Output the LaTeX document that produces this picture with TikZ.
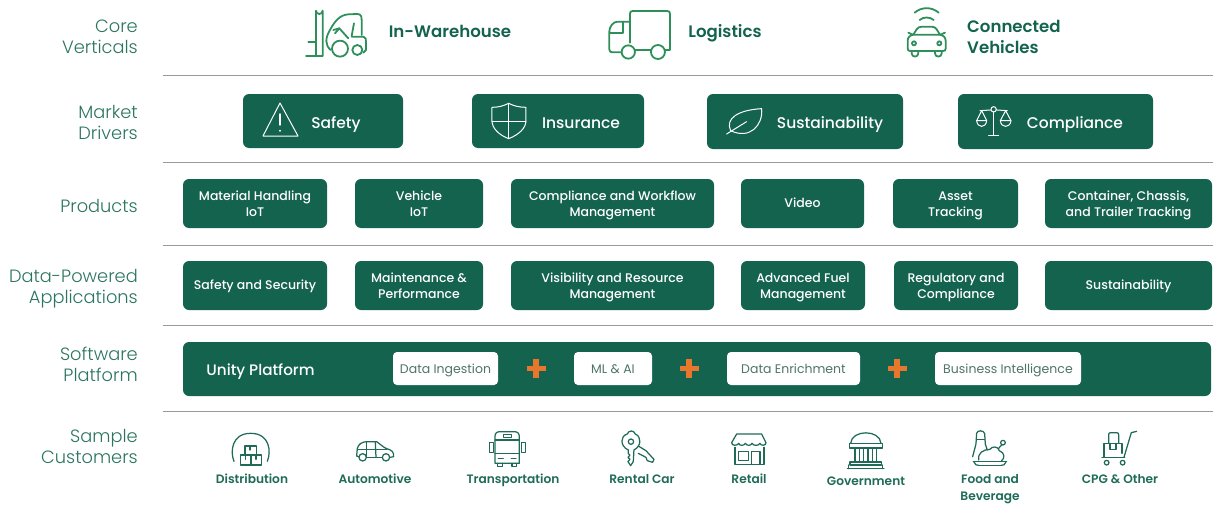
\documentclass[tikz,border=0pt]{standalone}
\usepackage{fontspec}
\usepackage{xcolor}
\usepackage{tikz}
\setmainfont{Poppins}
\newfontfamily\medfont[UprightFont={* Medium}]{Poppins}
\newfontfamily\semifont[UprightFont={* SemiBold}]{Poppins}
\newfontfamily\thinfont[UprightFont={* Light}]{Poppins}
\definecolor{deep}{HTML}{13634E}
\definecolor{rowtext}{HTML}{2B7560}
\definecolor{leaf}{HTML}{2F8F5B}
\definecolor{cust}{HTML}{1F6B57}
\definecolor{rule}{HTML}{9A9A9A}
\definecolor{muted}{HTML}{4F7568}
\definecolor{cross}{HTML}{E8762C}
\tikzset{
  struts/.style={execute at begin node=\strut, execute at end node=\strut},
  rowlbl/.style={struts, text=rowtext, anchor=east, align=right, inner sep=0pt, font=\thinfont\fontsize{17.8}{21}\selectfont},
  vert/.style={struts, text=deep, align=left, inner sep=0pt, font=\semifont\fontsize{16.6}{21}\selectfont},
  dbox/.style={fill=deep, rounded corners=6pt, inner sep=0pt, draw=none},
  drv/.style={struts, text=white, inner sep=0pt, font=\medfont\fontsize{15.5}{18}\selectfont},
  smallbase/.style={text=white, align=center, font=\medfont\fontsize{12.5}{16.5}\selectfont, execute at end node=\strut},
  small/.style={smallbase, execute at begin node=\rule{0pt}{31pt}},
  small one/.style={smallbase, execute at begin node=\rule{0pt}{13.6pt}},
  wbox/.style={fill=white, rounded corners=4pt, text=muted, minimum height=33pt, inner sep=0pt, font=\fontsize{12.5}{15}\selectfont,
    execute at begin node=\rule{0pt}{13.5pt}, execute at end node=\strut},
  cust lbl/.style={struts, text=cust, align=center, inner sep=0pt, font=\semifont\fontsize{12.2}{17}\selectfont},
  rule line/.style={draw=rule, line width=0.9pt},
  gline/.style={draw=leaf, line width=1.8pt, line cap=round, line join=round},
  wline/.style={draw=white, line width=1pt, line cap=round, line join=round},
  tline/.style={draw=cust, line width=1.25pt, line cap=round, line join=round},
  plusmark/.style={draw=cross, line width=5.5pt}
}
\begin{document}
\begin{tikzpicture}[x=1pt, y=-1pt]
  \useasboundingbox (0,0) rectangle (1213,506);

  % row names
  \node[rowlbl] (core) at (138,40) {Core\\Verticals};
  \node[rowlbl] (drivers) at (138,126) {Market\\Drivers};
  \node[rowlbl] (products) at (138,208.5) {Products};
  \node[rowlbl] (apps) at (138,289.5) {Data-Powered\\Applications};
  \node[rowlbl] (software) at (138,367.5) {Software\\Platform};
  \node[rowlbl] (sample) at (138,450) {Sample\\Customers};

  \foreach \ypos in {75,162,245,325,411}
    \draw[rule line] (163,\ypos) -- (1213,\ypos);

  % verticals
  \node[vert] (warehouse) at (450,33) {In-Warehouse};
  \node[vert] (logistics) at (725,33) {Logistics};
  \node[vert, anchor=west] (connected) at (967,40) {Connected\\Vehicles};

  % forklift
  \begin{scope}[shift={(280,0)}, scale=0.3333]
    \draw[gline] (108,125) -- (85,125);
    \draw[gline] (78,168) -- (108,168) -- (108,32) arc (180:0:10) -- (128,168) -- cycle;
    \draw[gline] (152,150) .. controls (135,135) and (135,115) .. (150,90) .. controls (165,62) and (180,45) .. (205,43) -- (232,42) .. controls (243,42) and (245,50) .. (245,60) -- (245,105);
    \draw[gline] (215,110) -- (250,110) .. controls (258,112) and (258,118) .. (258,125) -- (258,150) -- (250,158);
    \draw[gline] (165,100) -- (178,85) -- (160,90);
    \draw[gline] (178,85) -- (205,115);
    \draw[gline] (222,70) -- (215,108);
    \draw[gline] (180,146) circle (24);
    \draw[gline] (232,150) circle (15);
  \end{scope}

  % truck
  \begin{scope}[shift={(280,0)}, scale=0.3333]
    \draw[gline] (1050,128) -- (1050,42) .. controls (1050,36) and (1052,33) .. (1058,33) -- (1162,33) .. controls (1168,33) and (1170,36) .. (1170,42) -- (1170,150) -- (1156,150);
    \draw[gline] (1050,65) -- (1012,65) .. controls (1000,65) and (988,80) .. (988,95) -- (988,148) .. controls (988,155) and (992,157) .. (998,157) -- (1022,157);
    \draw[gline] (990,100) -- (1030,100) -- (1030,65);
    \draw[gline] (1066,150) -- (1112,150);
    \draw[gline] (1045,156) circle (20);
    \draw[gline] (1134,156) circle (21);
  \end{scope}

  % car with signal
  \begin{scope}[shift={(780,0)}, scale=0.3333]
    \draw[gline] (404,38) .. controls (425,20) and (455,20) .. (476,38);
    \draw[gline] (419,60) .. controls (430,50) and (450,50) .. (461,60);
    \draw[gline] (400,104) -- (410,88) .. controls (413,83) and (418,80) .. (426,80) -- (454,80) .. controls (462,80) and (467,83) .. (470,88) -- (480,104);
    \draw[gline] (400,104) -- (480,104) .. controls (490,106) and (497,112) .. (497,122) -- (497,146) .. controls (497,151) and (494,153) .. (489,153) -- (391,153) .. controls (386,153) and (383,151) .. (383,146) -- (383,122) .. controls (383,112) and (390,106) .. (400,104);
    \draw[gline] (385,98) -- (398,104);
    \draw[gline] (495,98) -- (482,104);
    \draw[gline] (395,153) -- (395,160) .. controls (395,173) and (415,173) .. (415,160) -- (415,153);
    \draw[gline] (465,153) -- (465,160) .. controls (465,173) and (485,173) .. (485,160) -- (485,153);
    \draw[gline] (402,130) circle (6);
    \draw[gline] (478,130) circle (6);
  \end{scope}

  % drivers
  \node[dbox, minimum width=160pt, minimum height=54pt] (safety) at (323,121) {};
  \node[dbox, minimum width=172pt, minimum height=54pt] (insurance) at (558,121) {};
  \node[dbox, minimum width=196pt, minimum height=55pt] (sustain) at (805,121.5) {};
  \node[dbox, minimum width=195pt, minimum height=55pt] (comply) at (1055.5,121.5) {};
  \node[drv] (safetylbl) at (336,124.5) {Safety};
  \node[drv] (insurlbl) at (581,124.5) {Insurance};
  \node[drv] (sustainlbl) at (830,124.5) {Sustainability};
  \node[drv] (complylbl) at (1075,124.5) {Compliance};

  \draw[wline] (280,103) -- (298,136) -- (263,136) -- cycle;
  \draw[wline, line width=1.4pt] (280,114) -- (280,125);
  \draw[wline, line width=1.4pt] (280,130.5) -- (280,131);
  \begin{scope}[shift={(280,0)}, scale=0.3333]
    \draw[wline] (636,322) .. controls (655,322) and (670,318) .. (686,310) .. controls (702,318) and (718,322) .. (738,322) -- (738,362) .. controls (738,385) and (715,405) .. (686,416) .. controls (657,405) and (636,385) .. (636,362) -- cycle;
    \draw[wline] (686,310) -- (686,416);
    \draw[wline] (636,365) -- (738,365);
    \draw[wline] (1340,402) -- (1400,365);
    \draw[wline] (1352,392) .. controls (1335,355) and (1375,330) .. (1445,326) .. controls (1450,375) and (1410,420) .. (1352,392);
  \end{scope}
  \begin{scope}[shift={(780,0)}, scale=0.3333]
    \draw[wline] (600,332) -- (632,330);
    \draw[wline] (650,330) -- (682,332);
    \draw[wline] (641,328) circle (8);
    \draw[wline] (641,336) -- (641,406);
    \draw[wline] (626,408) -- (656,408);
    \draw[wline] (605,332) -- (590,362) -- (620,362) -- cycle;
    \draw[wline] (590,362) .. controls (592,385) and (618,385) .. (620,362);
    \draw[wline] (677,332) -- (661,362) -- (693,362) -- cycle;
    \draw[wline] (661,362) .. controls (663,385) and (691,385) .. (693,362);
  \end{scope}

  % products
  \node[dbox, small, minimum width=144pt, minimum height=49pt] (material) at (255,203.5) {Material Handling\\IoT};
  \node[dbox, small, minimum width=128pt, minimum height=49pt] (vehicle) at (419,203.5) {Vehicle\\IoT};
  \node[dbox, small, minimum width=203pt, minimum height=49pt] (workflow) at (612.5,203.5) {Compliance and Workflow\\Management};
  \node[dbox, small one, minimum width=123pt, minimum height=49pt] (video) at (802.5,203.5) {Video};
  \node[dbox, small, minimum width=125pt, minimum height=49pt] (asset) at (955.5,203.5) {Asset\\Tracking};
  \node[dbox, small, minimum width=167pt, minimum height=49pt] (trailer) at (1128.5,203.5) {Container, Chassis,\\and Trailer Tracking};

  % applications
  \node[dbox, small one, minimum width=144pt, minimum height=49pt] (security) at (255,285.5) {Safety and Security};
  \node[dbox, small, minimum width=128pt, minimum height=49pt] (maint) at (419,285.5) {Maintenance \&\\Performance};
  \node[dbox, small, minimum width=203pt, minimum height=49pt] (resource) at (612.5,285.5) {Visibility and Resource\\Management};
  \node[dbox, small, minimum width=124pt, minimum height=49pt] (fuel) at (803,285.5) {Advanced Fuel\\Management};
  \node[dbox, small, minimum width=124pt, minimum height=49pt] (regul) at (956,285.5) {Regulatory and\\Compliance};
  \node[dbox, small one, minimum width=167pt, minimum height=49pt] (sustapp) at (1128.5,285.5) {Sustainability};

  % platform
  \node[dbox, minimum width=1028pt, minimum height=54pt] (platform) at (697,369) {};
  \node[drv, font=\medfont\fontsize{15.2}{18}\selectfont] (unity) at (260.5,371.5) {Unity Platform};
  \node[wbox, minimum width=105pt] (ingest) at (445.5,368.5) {Data Ingestion};
  \node[wbox, minimum width=78pt] (mlai) at (613,368.5) {ML \& AI};
  \node[wbox, minimum width=133pt] (enrich) at (793.5,368.5) {Data Enrichment};
  \node[wbox, minimum width=146pt] (intel) at (1008,368.5) {Business Intelligence};
  \foreach \xpos in {536,689,897} {
    \draw[plusmark] (\xpos-9.5,368.5) -- (\xpos+9.5,368.5);
    \draw[plusmark] (\xpos,359) -- (\xpos,378);
  }

  % customers
  \node[cust lbl] (distrib) at (252,480.5) {Distribution};
  \node[cust lbl] (auto) at (375,480.5) {Automotive};
  \node[cust lbl] (transport) at (513,480.5) {Transportation};
  \node[cust lbl] (rental) at (642,480.5) {Rental Car};
  \node[cust lbl] (retail) at (749,480.5) {Retail};
  \node[cust lbl] (gov) at (866,482.5) {Government};
  \node[cust lbl] (food) at (990,490.5) {Food and\\Beverage};
  \node[cust lbl] (cpg) at (1120,480.5) {CPG \& Other};

  \begin{scope}[shift={(170,420)}, scale=0.3333]
    % warehouse
    \draw[tline] (192,124) .. controls (180,95) and (185,40) .. (242,40) .. controls (300,40) and (304,95) .. (292,124);
    \draw[tline] (225,78) rectangle (260,105);
    \draw[tline] (212,105) rectangle (243,135);
    \draw[tline] (243,105) rectangle (275,135);
    \draw[tline] (240,80) -- (240,90);
    \draw[tline] (226,108) -- (226,118);
    \draw[tline] (258,108) -- (258,118);
    % hatchback
    \draw[tline] (566,110) -- (560,108) -- (562,85) .. controls (566,72) and (575,66) .. (590,65) -- (620,65) .. controls (630,72) and (640,82) .. (650,86) .. controls (665,90) and (672,95) .. (671,110) -- (661,112);
    \draw[tline] (590,112) -- (636,112);
    \draw[tline] (578,112) circle (11);
    \draw[tline] (648,112) circle (11);
    \draw[tline] (563,88) -- (650,88);
    \draw[tline] (590,66) -- (590,110);
    \draw[tline] (616,66) -- (618,110);
    % bus
    \draw[tline] (975,50) .. controls (975,40) and (980,35) .. (990,35) -- (1033,35) .. controls (1043,35) and (1048,40) .. (1048,50) -- (1048,130) -- (975,130) -- cycle;
    \draw[tline] (958,68) rectangle (970,98);
    \draw[tline] (1054,68) rectangle (1066,98);
    \draw[tline] (1000,43) rectangle (1025,52);
    \draw[tline] (975,60) -- (1048,60);
    \draw[tline] (975,100) -- (1048,100);
    \draw[tline] (985,116) -- (1000,116);
    \draw[tline] (1024,116) -- (1038,116);
    \draw[tline] (983,130) -- (983,139) -- (997,139) -- (997,130);
    \draw[tline] (1026,130) -- (1026,139) -- (1040,139) -- (1040,130);
    % keys
    \draw[tline] (1375,90) .. controls (1350,78) and (1350,48) .. (1372,42) .. controls (1376,30) and (1392,30) .. (1396,42) .. controls (1415,50) and (1415,78) .. (1392,90) -- (1390,125) -- (1382,137) -- (1374,125) -- (1380,118) -- (1374,112) -- (1380,106) -- (1375,100) -- cycle;
    \draw[tline] (1383,65) circle (8);
    \draw[tline] (1405,78) -- (1428,92) -- (1452,118) -- (1448,127) -- (1432,122) -- (1428,112) -- (1405,100);
  \end{scope}

  \begin{scope}[shift={(690,420)}, scale=0.3333]
    % shop
    \draw[tline] (140,42) -- (215,42) -- (228,68) .. controls (228,78) and (212,78) .. (210,70) .. controls (206,78) and (190,78) .. (186,70) .. controls (182,78) and (170,78) .. (166,70) .. controls (162,78) and (148,78) .. (146,70) .. controls (142,78) and (125,78) .. (125,68) -- cycle;
    \draw[tline] (135,82) -- (135,133) -- (222,133) -- (222,82);
    \draw[tline] (185,133) -- (185,95) -- (210,95) -- (210,133);
    \draw[tline] (145,95) rectangle (175,122);
    % capitol
    \draw[tline] (482,70) .. controls (485,28) and (570,28) .. (573,70);
    \draw[tline] (478,70) rectangle (578,84);
    \foreach \xcol in {495,508,521,534,547,560}
      \draw[tline] (\xcol,84) -- (\xcol,126);
    \draw[tline] (480,126) rectangle (575,135);
    \draw[tline] (472,146) -- (582,146);
    \draw[tline] (476,135) -- (476,146);
    \draw[tline] (578,135) -- (578,146);
    % meal
    \draw[tline] (848,110) -- (858,72) -- (860,40) .. controls (862,30) and (880,30) .. (884,40) -- (886,72) -- (892,90);
    \draw[tline] (860,58) -- (884,58);
    \draw[tline] (866,120) .. controls (862,100) and (880,88) .. (900,88) .. controls (905,78) and (925,78) .. (928,92) .. controls (945,98) and (945,115) .. (935,122);
    \draw[tline] (925,86) -- (935,75);
    \draw[tline] (939,68) circle (7);
    \draw[tline] (850,125) -- (950,125);
    \draw[tline] (866,136) -- (934,136);
    \draw[tline] (852,126) .. controls (855,135) and (860,136) .. (866,136);
    \draw[tline] (948,126) .. controls (945,135) and (940,136) .. (934,136);
    % trolley
    \draw[tline] (1340,34) -- (1324,38) -- (1302,112);
    \draw[tline] (1236,112) -- (1304,112);
    \draw[tline] (1242,112) -- (1242,70) -- (1296,70) -- (1296,100);
    \draw[tline] (1256,70) -- (1256,44) .. controls (1256,40) and (1258,38) .. (1262,38) -- (1280,38) .. controls (1284,38) and (1286,40) .. (1286,44) -- (1286,70);
    \draw[tline] (1260,70) -- (1260,88) -- (1278,88) -- (1278,70);
    \draw[tline] (1250,128) circle (7);
    \draw[tline] (1298,128) circle (7);
  \end{scope}
\end{tikzpicture}
\end{document}
